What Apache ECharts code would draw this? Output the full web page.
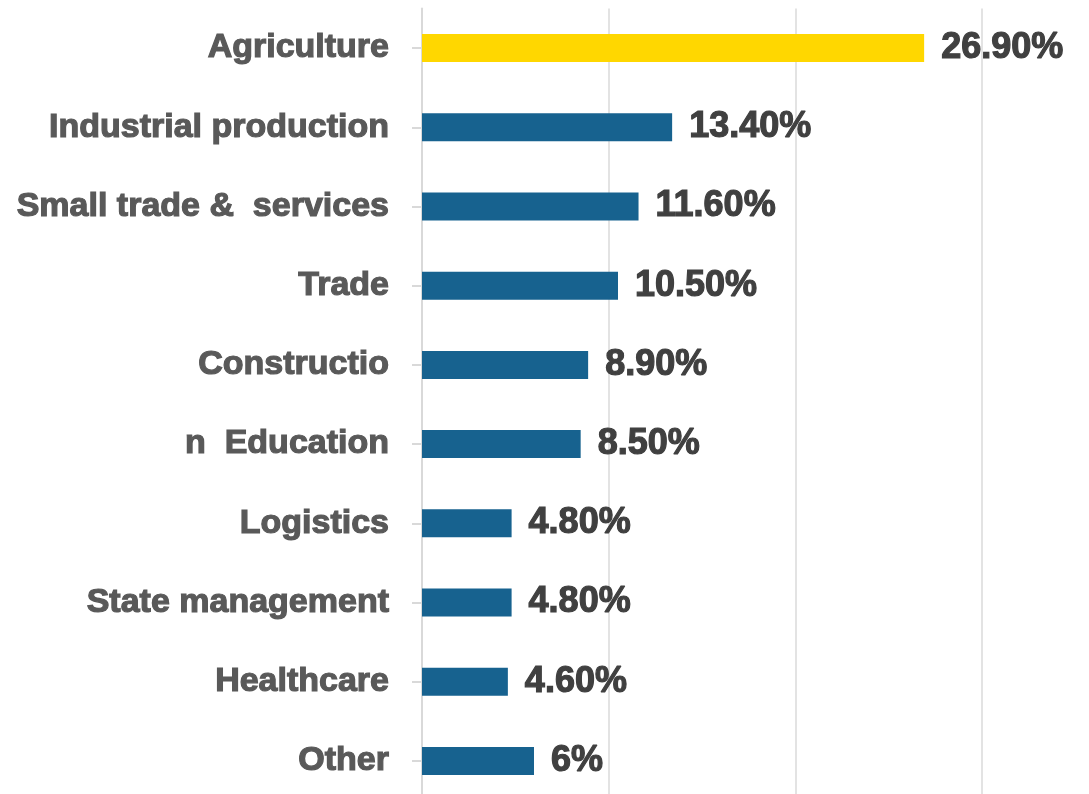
<!DOCTYPE html>
<html>
<head>
<meta charset="utf-8">
<script src="https://cdn.jsdelivr.net/npm/echarts@6/dist/echarts.min.js"></script>
<style>
html,body{margin:0;padding:0;background:#fff;}
#chart{width:1089px;height:794px;}
</style>
</head>
<body>
<div id="chart"></div>
<script>
const categories = ["Agriculture", "Industrial production", "Small trade &  services", "Trade", "Constructio", "n  Education", "Logistics", "State management", "Healthcare", "Other"];
const values = [26.9, 13.4, 11.6, 10.5, 8.9, 8.5, 4.8, 4.8, 4.6, 6];
const valueLabels = ["26.90%", "13.40%", "11.60%", "10.50%", "8.90%", "8.50%", "4.80%", "4.80%", "4.60%", "6%"];
const highlightIndex = 0;

const chart = echarts.init(document.getElementById('chart'), null, {renderer: 'canvas'});
chart.setOption({
  animation: false,
  backgroundColor: '#ffffff',
  grid: {left: 422, right: 107, top: 8.5, height: 792, containLabel: false, outerBoundsMode: 'none'},
  xAxis: {
    type: 'value', min: 0, max: 30, interval: 10,
    axisLine: {show: false}, axisTick: {show: false}, axisLabel: {show: false},
    splitLine: {show: true, lineStyle: {color: '#e3e3e3', width: 2}}
  },
  yAxis: {
    type: 'category', data: categories, inverse: true,
    axisLine: {show: true, lineStyle: {color: '#d9d9d9', width: 2}},
    axisTick: {show: true, alignWithLabel: true, length: 10, lineStyle: {color: '#d9d9d9', width: 2}},
    axisLabel: {margin: 33, color: '#595959', fontSize: 34, fontWeight: 'bold',
      fontFamily: 'Liberation Sans, Arial, sans-serif',
      textBorderColor: '#595959', textBorderWidth: 1.2, padding: [3, 0, 0, 0]},
    splitLine: {show: false}
  },
  series: [{
    type: 'bar',
    barWidth: 28,
    data: values.map((v, i) => ({value: v, itemStyle: {color: i === highlightIndex ? '#FFD700' : '#17628F'}})),
    label: {
      show: true, position: 'right', distance: 17,
      formatter: p => valueLabels[p.dataIndex],
      color: '#404040', fontSize: 36, fontWeight: 'bold', fontFamily: 'Liberation Sans, Arial, sans-serif',
      textBorderColor: '#404040', textBorderWidth: 1.2
    }
  }]
});
</script>
</body>
</html>
